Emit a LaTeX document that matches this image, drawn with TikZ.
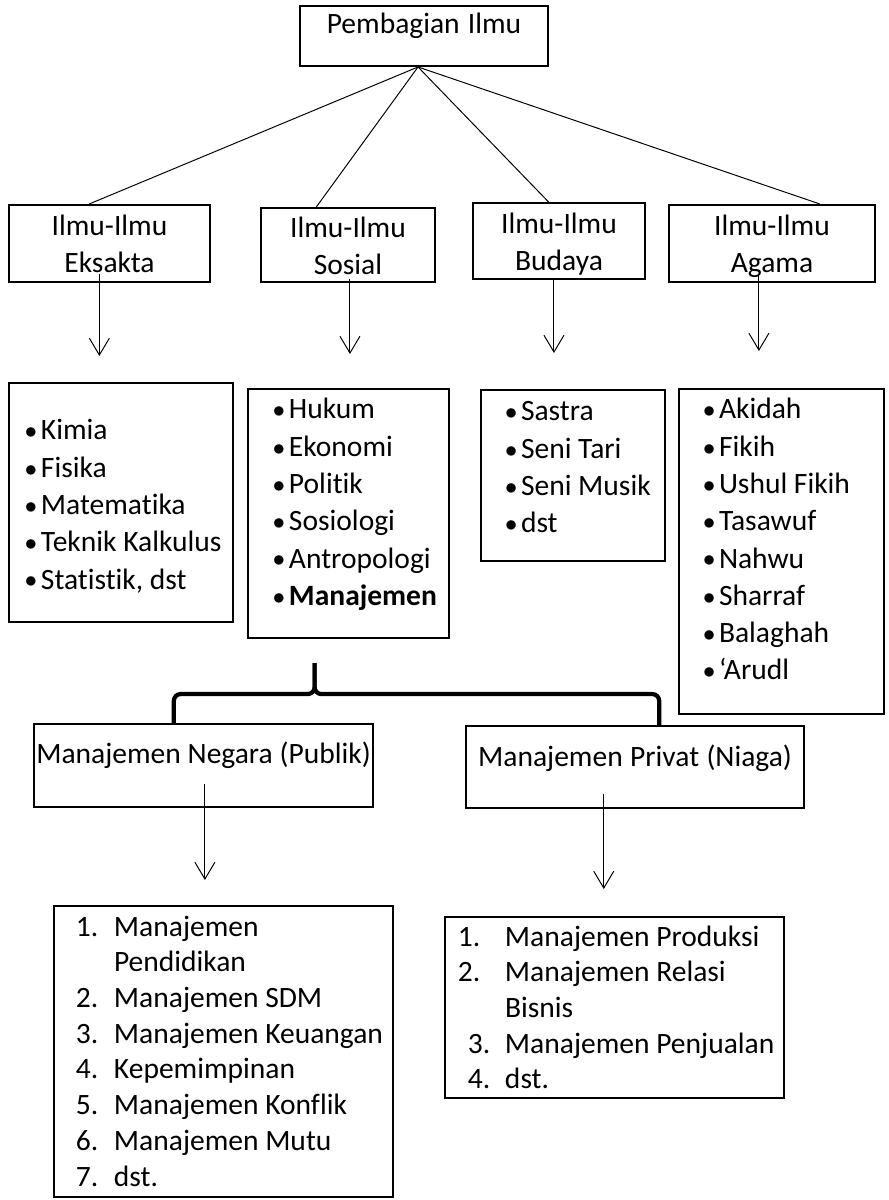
\documentclass[tikz,border=0pt]{standalone}
\usepackage{fontspec}
\setmainfont{Carlito}[Ligatures={TeX,NoCommon}]
\usetikzlibrary{arrows.meta,calc}

\newcommand{\bul}{\makebox[0.4cm][l]{\raisebox{0.03cm}{\fontsize{19pt}{19pt}\selectfont$\bullet$}}}
\newcommand{\nr}[2]{\makebox[#1][l]{#2}}

\begin{document}
\begin{tikzpicture}[
  x=0.025cm, y=-0.025cm,
  font=\fontsize{21pt}{26.3pt}\selectfont,
  box/.style={
    draw,
    line width=1.4pt,
    anchor=north west,
    inner sep=0pt,
    align=center,
    execute at begin node={\spaceskip=0pt\xspaceskip=0pt}
  },
  lst/.style={
    box,
    align=left,
    font=\fontsize{21pt}{26.5pt}\selectfont,
    execute at begin node={\spaceskip=0pt\xspaceskip=0pt\setlength{\leftskip}{#1}}
  },
  conn/.style={line width=0.7pt},
  arrow/.style={line width=0.7pt, -{Straight Barb[length=0.42cm,width=0.5cm]}},
  brc/.style={line width=3pt, rounded corners=0.17cm}
]
\useasboundingbox (0,0) rectangle (888,1200);

% top
\node[box, text width=6.2cm, text height=0.7cm, text depth=0.8cm] (ilmu) at (299,5) {Pembagian Ilmu};

% four groups
\node[box, text width=5.025cm, text height=0.775cm, text depth=1.15cm] (eks) at (8,204) {Ilmu-Ilmu\\Eksakta};
\node[box, text width=4.35cm, text height=0.75cm, text depth=1.1cm] (sos) at (260,207) {Ilmu-Ilmu\\Sosial};
\node[box, text width=4.3cm, text height=0.775cm, text depth=1.125cm] (bud) at (472,202) {Ilmu-Ilmu\\Budaya};
\node[box, text width=5.15cm, text height=0.775cm, text depth=1.15cm] (aga) at (668,204) {Ilmu-Ilmu\\Agama};

% lists
\node[lst=0.4cm, text width=5.6cm, text height=1.425cm, text depth=4.55cm] (eksl) at (8,382)
  {\bul Kimia\\\bul Fisika\\\bul Matematika\\\bul Teknik Kalkulus\\\bul Statistik, dst};
\node[lst=0.625cm, text width=5.025cm, text height=0.75cm, text depth=5.475cm] (sosl) at (247,388)
  {\bul Hukum\\\bul Ekonomi\\\bul Politik\\\bul Sosiologi\\\bul Antropologi\\\bul\textbf{Manajemen}};
\node[lst=0.6cm, text width=4.6cm, text height=0.775cm, text depth=3.5cm] (budl) at (480,389)
  {\bul Sastra\\\bul Seni Tari\\\bul Seni Musik\\\bul dst};
\node[lst=0.6cm, text width=5.125cm, text height=0.75cm, text depth=7.375cm] (agal) at (678,388)
  {\bul Akidah\\\bul Fikih\\\bul Ushul Fikih\\\bul Tasawuf\\\bul Nahwu\\\bul Sharraf\\\bul Balaghah\\\bul ‘Arudl};

% manajemen
\node[box, text width=8.475cm, text height=0.975cm, text depth=1.1cm] (neg) at (33,723) {Manajemen Negara (Publik)};
\node[box, text width=8.45cm, text height=1.0cm, text depth=1.05cm] (pri) at (465,725) {Manajemen Privat (Niaga)};

\node[lst=0.55cm, font=\fontsize{21pt}{25.4pt}\selectfont, text width=8.475cm, text height=0.75cm, text depth=6.525cm] (negl) at (53,905)
  {\nr{0.95cm}{1.}Manajemen\\\nr{0.95cm}{}Pendidikan\\\nr{0.95cm}{2.}Manajemen SDM\\\nr{0.95cm}{3.}Manajemen Keuangan\\
   \nr{0.95cm}{4.}Kepemimpinan\\\nr{0.95cm}{5.}Manajemen Konflik\\\nr{0.95cm}{6.}Manajemen Mutu\\\nr{0.95cm}{7.}dst.};
\node[lst=0.325cm, font=\fontsize{21pt}{25.4pt}\selectfont, text width=8.475cm, text height=0.725cm, text depth=3.8cm] (pril) at (444,916)
  {\nr{1.175cm}{1.}Manajemen Produksi\\\nr{1.175cm}{2.}Manajemen Relasi\\\nr{1.175cm}{}Bisnis\\
   \hspace*{0.25cm}\nr{0.925cm}{3.}Manajemen Penjualan\\\hspace*{0.25cm}\nr{0.925cm}{4.}dst.};

% lines from the top
\coordinate (apex) at ($(ilmu.south west)!0.476!(ilmu.south east)$);
\draw[conn] (apex) -- ($(eks.north west)!0.4!(eks.north east)$);
\draw[conn] (apex) -- ($(sos.north west)!0.32!(sos.north east)$);
\draw[conn] (apex) -- ($(bud.north west)!0.44!(bud.north east)$);
\draw[conn] (apex) -- ($(aga.north west)!0.73!(aga.north east)$);

% arrows
\draw[arrow, shorten >=0.65cm] ($(eks.south west)!0.45!(eks.south east)+(0,-9)$) coordinate (e1) -- (e1 |- eksl.north);
\draw[arrow, shorten >=0.85cm] ($(sos.south west)!0.511!(sos.south east)+(0,-4)$) coordinate (s1) -- (s1 |- sosl.north);
\draw[arrow, shorten >=0.9cm] ($(bud.south west)!0.471!(bud.south east)$) coordinate (b1) -- (b1 |- budl.north);
\draw[arrow, shorten >=0.925cm] ($(aga.south west)!0.437!(aga.south east)+(0,-9)$) coordinate (a1) -- (a1 |- agal.north);
\draw[arrow, shorten >=0.625cm] ($(neg.south west)!0.504!(neg.south east)+(0,-24)$) coordinate (n1) -- (n1 |- negl.north);
\draw[arrow, shorten >=0.675cm] ($(pri.south west)!0.408!(pri.south east)+(0,-15)$) coordinate (p1) -- (p1 |- pril.north);

% brace
\coordinate (tip) at ($(sosl.south west)!0.333!(sosl.south east)+(0,24)$);
\draw[brc] ($(neg.north west)!0.413!(neg.north east)$) |- ($(tip)+(0,31)$) -- (tip);
\draw[brc] ($(pri.north west)!0.571!(pri.north east)$) |- ($(tip)+(0,31)$) -- (tip);

\end{tikzpicture}
\end{document}
